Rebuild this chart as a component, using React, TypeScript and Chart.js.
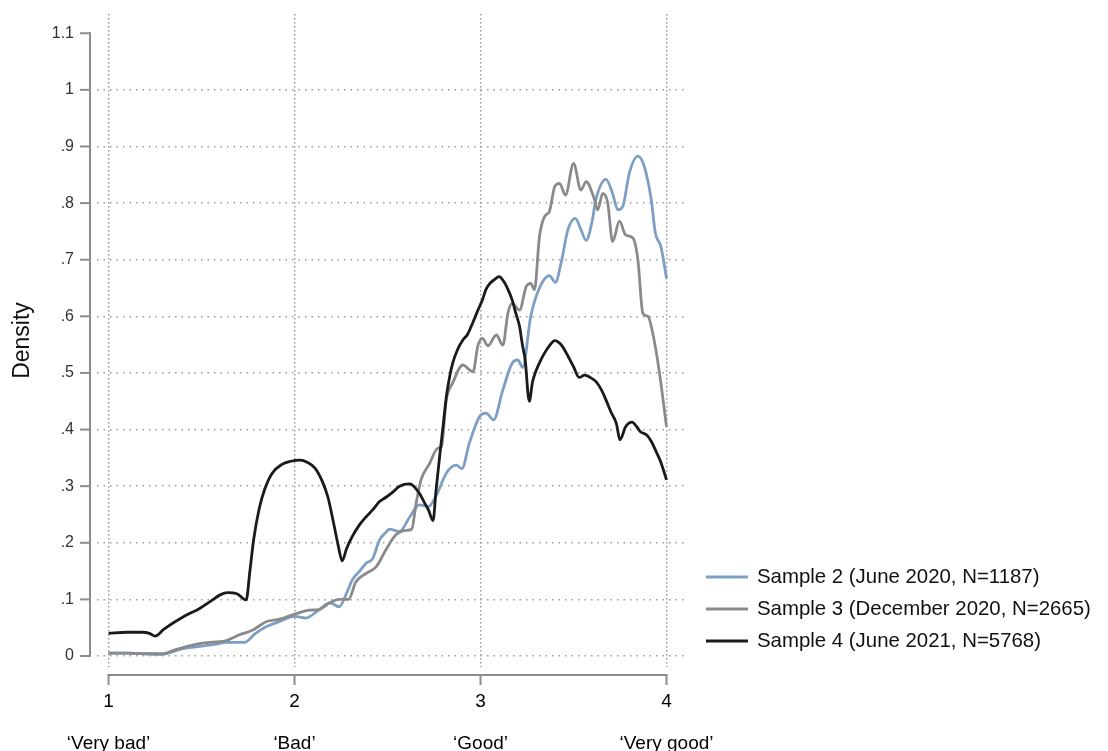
import React, { useEffect, useRef } from "react";
import { Chart, registerables } from "chart.js";

Chart.register(...registerables);

// ---- Data ----
const seriesLabels = [
  "Sample 2 (June 2020, N=1187)",
  "Sample 3 (December 2020, N=2665)",
  "Sample 4 (June 2021, N=5768)",
];

const sample2X = [1.0, 1.1, 1.2, 1.29, 1.35, 1.4, 1.49, 1.58, 1.63, 1.73, 1.79, 1.85, 1.92, 2.0, 2.06, 2.13, 2.19, 2.24, 2.28, 2.31, 2.35, 2.385, 2.42, 2.457, 2.49, 2.51, 2.565, 2.62, 2.67, 2.72, 2.76, 2.816, 2.87, 2.9, 2.94, 2.995, 3.03, 3.07, 3.12, 3.17, 3.2, 3.227, 3.27, 3.317, 3.37, 3.403, 3.433, 3.47, 3.51, 3.54, 3.568, 3.6, 3.62, 3.675, 3.71, 3.738, 3.765, 3.8, 3.846, 3.88, 3.918, 3.94, 3.97, 4.0];
const sample2Y = [0.005, 0.005, 0.004, 0.003, 0.008, 0.013, 0.017, 0.021, 0.024, 0.024, 0.04, 0.052, 0.061, 0.07, 0.067, 0.081, 0.094, 0.087, 0.111, 0.134, 0.15, 0.164, 0.172, 0.205, 0.218, 0.224, 0.22, 0.246, 0.267, 0.264, 0.282, 0.323, 0.337, 0.331, 0.376, 0.423, 0.429, 0.417, 0.47, 0.517, 0.523, 0.51, 0.6, 0.65, 0.672, 0.66, 0.694, 0.753, 0.773, 0.753, 0.734, 0.768, 0.806, 0.842, 0.817, 0.788, 0.794, 0.853, 0.883, 0.865, 0.806, 0.747, 0.723, 0.667];

const sample3X = [1.0, 1.1, 1.2, 1.29, 1.35, 1.4, 1.49, 1.58, 1.63, 1.7, 1.776, 1.85, 1.92, 2.01, 2.08, 2.13, 2.19, 2.24, 2.29, 2.33, 2.385, 2.44, 2.49, 2.545, 2.6, 2.63, 2.654, 2.68, 2.726, 2.77, 2.79, 2.816, 2.85, 2.905, 2.96, 2.985, 3.01, 3.04, 3.085, 3.12, 3.147, 3.17, 3.21, 3.246, 3.27, 3.29, 3.317, 3.344, 3.37, 3.4, 3.425, 3.457, 3.5, 3.54, 3.568, 3.61, 3.63, 3.657, 3.684, 3.71, 3.747, 3.78, 3.82, 3.846, 3.873, 3.9, 3.926, 3.96, 4.0];
const sample3Y = [0.005, 0.005, 0.004, 0.004, 0.01, 0.015, 0.022, 0.025, 0.027, 0.037, 0.046, 0.061, 0.065, 0.075, 0.081, 0.082, 0.094, 0.1, 0.1, 0.131, 0.146, 0.158, 0.187, 0.214, 0.222, 0.224, 0.27, 0.311, 0.34, 0.367, 0.37, 0.452, 0.482, 0.514, 0.502, 0.547, 0.561, 0.548, 0.567, 0.549, 0.605, 0.623, 0.611, 0.653, 0.658, 0.647, 0.741, 0.776, 0.785, 0.83, 0.835, 0.814, 0.87, 0.823, 0.838, 0.809, 0.788, 0.817, 0.8, 0.732, 0.768, 0.744, 0.738, 0.7, 0.605, 0.6, 0.57, 0.505, 0.405];

const sample4X = [1.0, 1.1, 1.18, 1.22, 1.25, 1.3, 1.4, 1.49, 1.55, 1.6, 1.64, 1.69, 1.74, 1.76, 1.78, 1.81, 1.84, 1.88, 1.93, 1.98, 2.03, 2.07, 2.11, 2.15, 2.18, 2.21, 2.235, 2.256, 2.28, 2.31, 2.35, 2.385, 2.42, 2.457, 2.49, 2.53, 2.565, 2.62, 2.67, 2.7, 2.72, 2.745, 2.76, 2.78, 2.8, 2.816, 2.835, 2.85, 2.875, 2.905, 2.93, 2.96, 2.985, 3.01, 3.03, 3.05, 3.075, 3.1, 3.12, 3.14, 3.17, 3.19, 3.21, 3.225, 3.24, 3.262, 3.28, 3.3, 3.32, 3.344, 3.37, 3.4, 3.42, 3.44, 3.47, 3.5, 3.53, 3.56, 3.59, 3.62, 3.65, 3.675, 3.7, 3.73, 3.75, 3.78, 3.815, 3.84, 3.86, 3.895, 3.92, 3.94, 3.97, 4.0];
const sample4Y = [0.04, 0.042, 0.042, 0.04, 0.035, 0.048, 0.069, 0.084, 0.097, 0.108, 0.112, 0.11, 0.099, 0.15, 0.205, 0.26, 0.295, 0.323, 0.338, 0.344, 0.346, 0.342, 0.332, 0.308, 0.28, 0.235, 0.195, 0.168, 0.19, 0.211, 0.232, 0.246, 0.258, 0.273, 0.28, 0.29, 0.3, 0.304, 0.288, 0.27, 0.258, 0.239, 0.29, 0.352, 0.41, 0.458, 0.495, 0.517, 0.54, 0.558, 0.568, 0.59, 0.61, 0.629, 0.648, 0.658, 0.665, 0.67, 0.664, 0.653, 0.629, 0.605, 0.582, 0.55, 0.523, 0.45, 0.485, 0.505, 0.52, 0.535, 0.548, 0.557, 0.554, 0.547, 0.53, 0.511, 0.492, 0.496, 0.492, 0.485, 0.47, 0.452, 0.432, 0.411, 0.382, 0.405, 0.413, 0.405, 0.396, 0.39, 0.378, 0.364, 0.342, 0.311];

const xTickValues = [1, 2, 3, 4];
const xTickNumbers = ["1", "2", "3", "4"];
const xTickCategories = ["\u2018Very bad\u2019", "\u2018Bad\u2019", "\u2018Good\u2019", "\u2018Very good\u2019"];
const yTickValues = [0, 0.1, 0.2, 0.3, 0.4, 0.5, 0.6, 0.7, 0.8, 0.9, 1, 1.1];
const yTickLabels = ["0", ".1", ".2", ".3", ".4", ".5", ".6", ".7", ".8", ".9", "1", "1.1"];

const seriesColors = ["#7d9fc3", "#8a8a8a", "#1a1a1a"];

const FONT = "'Liberation Sans', Arial, Helvetica, sans-serif";

function toPoints(xs: number[], ys: number[]) {
  return xs.map((x, i) => ({ x, y: ys[i] }));
}

const offsetAxesPlugin = {
  id: "offsetAxes",
  afterDraw(chart: any) {
    const { ctx, chartArea } = chart;
    const xs = chart.scales.x;
    const ys = chart.scales.y;
    ctx.save();
    ctx.strokeStyle = "#8c8c8c";
    ctx.lineWidth = 2;
    ctx.lineCap = "butt";
    // y axis (offset to the left of the plot region)
    const ax = chartArea.left - 7;
    const y0 = ys.getPixelForValue(yTickValues[0]);
    const y1 = ys.getPixelForValue(yTickValues[yTickValues.length - 1]);
    ctx.beginPath();
    ctx.moveTo(ax, y0 + 1);
    ctx.lineTo(ax, y1 - 1);
    ctx.stroke();
    yTickValues.forEach((v) => {
      const py = ys.getPixelForValue(v);
      ctx.beginPath();
      ctx.moveTo(ax, py);
      ctx.lineTo(ax - 10, py);
      ctx.stroke();
    });
    // x axis (offset below the plot region)
    const ay = chartArea.bottom + 8;
    const x0 = xs.getPixelForValue(xTickValues[0]);
    const x1 = xs.getPixelForValue(xTickValues[xTickValues.length - 1]);
    ctx.beginPath();
    ctx.moveTo(x0 - 1, ay);
    ctx.lineTo(x1 + 1, ay);
    ctx.stroke();
    xTickValues.forEach((v) => {
      const px = xs.getPixelForValue(v);
      ctx.beginPath();
      ctx.moveTo(px, ay);
      ctx.lineTo(px, ay + 10);
      ctx.stroke();
    });
    ctx.restore();
  },
};

const customLegendPlugin = {
  id: "customLegend",
  afterDraw(chart: any) {
    const { ctx } = chart;
    ctx.save();
    ctx.font = `20.4px ${FONT}`;
    ctx.textBaseline = "middle";
    ctx.textAlign = "left";
    const startX = 706;
    const startY = 577;
    const rowGap = 32;
    chart.data.datasets.forEach((ds: any, i: number) => {
      const cy = startY + i * rowGap;
      ctx.strokeStyle = ds.borderColor;
      ctx.lineWidth = 2.8;
      ctx.beginPath();
      ctx.moveTo(startX, cy);
      ctx.lineTo(startX + 42, cy);
      ctx.stroke();
      ctx.fillStyle = "#111";
      ctx.fillText(ds.label, startX + 51, cy);
    });
    ctx.restore();
  },
};

export default function App() {
  const canvasRef = useRef<HTMLCanvasElement | null>(null);

  useEffect(() => {
    if (!canvasRef.current) return;
    const gridColor = "#9c9c9c";
    const chart = new Chart(canvasRef.current, {
      type: "line",
      data: {
        datasets: [
          {
            label: seriesLabels[0],
            data: toPoints(sample2X, sample2Y),
            borderColor: seriesColors[0],
            borderWidth: 2.8,
            order: 3,
          },
          {
            label: seriesLabels[1],
            data: toPoints(sample3X, sample3Y),
            borderColor: seriesColors[1],
            borderWidth: 2.8,
            order: 2,
          },
          {
            label: seriesLabels[2],
            data: toPoints(sample4X, sample4Y),
            borderColor: seriesColors[2],
            borderWidth: 2.8,
            order: 1,
          },
        ],
      },
      options: {
        animation: false,
        responsive: false,
        maintainAspectRatio: false,
        layout: { padding: { top: 14, right: 424, left: 0, bottom: 0 } },
        elements: {
          point: { radius: 0, hoverRadius: 0 },
          line: { cubicInterpolationMode: "monotone", fill: false },
        },
        plugins: {
          legend: { display: false },
          tooltip: { enabled: false },
        },
        scales: {
          x: {
            type: "linear",
            min: 0.938,
            max: 4.094,
            afterBuildTicks: (s: any) => {
              s.ticks = xTickValues.map((v) => ({ value: v }));
            },
            afterFit: (s: any) => {
              s.height = 84;
              s.paddingLeft = 0;
              s.paddingRight = 0;
            },
            ticks: {
              autoSkip: false,
              maxRotation: 0,
              minRotation: 0,
              padding: 14,
              color: "#000",
              font: { family: FONT, size: 19, lineHeight: 2.2 },
              callback: (_v: any, i: number) => [xTickNumbers[i], xTickCategories[i]],
            },
            grid: { drawTicks: false, color: gridColor, lineWidth: 1.5 },
            border: { display: false, dash: [1.5, 2.5] },
          },
          y: {
            type: "linear",
            min: -0.0194,
            max: 1.134,
            afterBuildTicks: (s: any) => {
              s.ticks = yTickValues.map((v) => ({ value: v }));
            },
            afterFit: (s: any) => {
              s.width = 97;
              s.paddingTop = 0;
              s.paddingBottom = 0;
            },
            ticks: {
              autoSkip: false,
              padding: 23,
              color: "#333",
              font: { family: FONT, size: 16 },
              callback: (_v: any, i: number) => yTickLabels[i],
            },
            grid: {
              drawTicks: false,
              lineWidth: 1.5,
              color: (c: any) => (c.tick && c.tick.value <= 1.0001 ? gridColor : "rgba(0,0,0,0)"),
            },
            border: { display: false, dash: [1.5, 5] },
            title: {
              display: true,
              text: "Density",
              color: "#111",
              font: { family: FONT, size: 23 },
              padding: { top: 9, bottom: 0 },
            },
          },
        },
      },
      plugins: [offsetAxesPlugin, customLegendPlugin],
    } as any);
    return () => chart.destroy();
  }, []);

  return (
    <div style={{ position: "absolute", left: 0, top: 0, width: 1108, height: 751, background: "#fff" }}>
      <canvas ref={canvasRef} width={1108} height={751} style={{ display: "block" }} />
    </div>
  );
}
